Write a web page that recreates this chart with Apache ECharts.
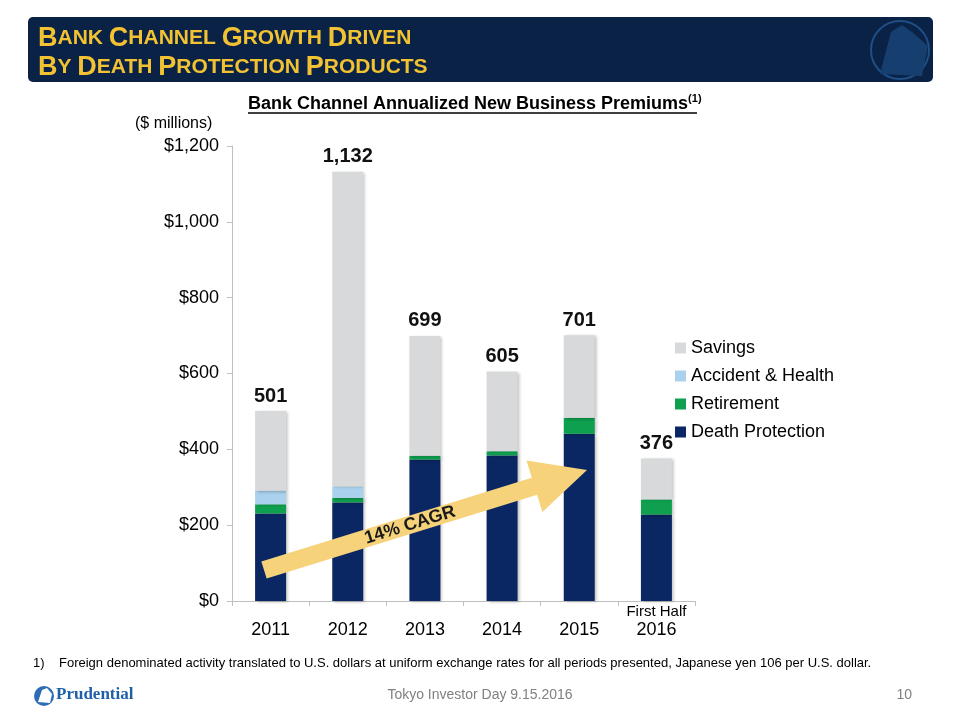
<!DOCTYPE html>
<html>
<head>
<meta charset="utf-8">
<script src="https://cdn.jsdelivr.net/npm/echarts@6/dist/echarts.min.js"></script>
<style>
html,body{margin:0;padding:0;background:#fff;}
#main{width:960px;height:720px;}
</style>
</head>
<body>
<div id="main"></div>
<script>
const categories = ['2011', '2012', '2013', '2014', '2015', '2016'];
const deathProtection = [231, 260, 373, 384, 441, 228];
const retirement = [24, 12, 10, 11, 42, 40];
const accidentHealth = [36, 30, 0, 0, 0, 0];
const savings = [210, 830, 316, 210, 218, 108];
const totals = [501, 1132, 699, 605, 701, 376];
const yMax = 1200;
const yInterval = 200;

const FONT = 'Liberation Sans, Arial, sans-serif';
const chart = echarts.init(document.getElementById('main'));

function smallCaps(line) {
  return line.split(' ').map(w => '{L|' + w[0] + '}{s|' + w.slice(1).toUpperCase() + '}').join('{s| }');
}

// arrow geometry (annotation)
const T = [264, 570], P = [587, 470];
const dx = P[0] - T[0], dy = P[1] - T[1];
const len = Math.sqrt(dx * dx + dy * dy);
const u = [dx / len, dy / len];
const n = [-u[1], u[0]];
const headLen = 55, sw = 9, hw = 27;
const B = [P[0] - u[0] * headLen, P[1] - u[1] * headLen];
const pt = (base, k) => [base[0] + n[0] * k, base[1] + n[1] * k];
const arrowPts = [pt(T, sw), pt(T, -sw), pt(B, -sw), pt(B, -hw), P, pt(B, hw), pt(B, sw)];

const barStyle = { shadowBlur: 3, shadowOffsetX: 2, shadowOffsetY: 1, shadowColor: 'rgba(0,0,0,0.25)' };

const option = {
  backgroundColor: '#ffffff',
  animation: false,
  textStyle: { fontFamily: FONT },
  grid: { left: 232, right: 265, top: 146, bottom: 119 },
  legend: {
    orient: 'vertical',
    left: 670,
    top: 334,
    itemWidth: 11,
    itemHeight: 11,
    itemGap: 10,
    icon: 'rect',
    textStyle: { fontSize: 18, color: '#000', fontFamily: FONT, padding: [0, 0, 0, 0] },
    data: ['Savings', 'Accident & Health', 'Retirement', 'Death Protection']
  },
  xAxis: {
    type: 'category',
    data: categories,
    axisLine: { lineStyle: { color: '#BFBFBF', width: 1 } },
    axisTick: { show: true, length: 5, lineStyle: { color: '#BFBFBF' } },
    axisLabel: {
      interval: 0,
      margin: 2,
      formatter: function (v) {
        return (v === '2016' ? '{a|First Half}' : '{a| }') + '\n{b|' + v + '}';
      },
      rich: {
        a: { fontSize: 15, lineHeight: 17, color: '#000', fontFamily: FONT },
        b: { fontSize: 18, lineHeight: 20, color: '#000', fontFamily: FONT }
      }
    }
  },
  yAxis: {
    type: 'value',
    min: 0,
    max: yMax,
    interval: yInterval,
    splitLine: { show: false },
    axisLine: { show: true, lineStyle: { color: '#BFBFBF', width: 1 } },
    axisTick: { show: true, length: 5, lineStyle: { color: '#BFBFBF' } },
    axisLabel: {
      fontSize: 18,
      color: '#000',
      margin: 13,
      fontFamily: FONT,
      formatter: v => '$' + v.toLocaleString('en-US')
    }
  },
  series: [
    { name: 'Death Protection', type: 'bar', stack: 'a', barWidth: 31, data: deathProtection,
      itemStyle: Object.assign({ color: '#0B2763' }, barStyle) },
    { name: 'Retirement', type: 'bar', stack: 'a', data: retirement,
      itemStyle: Object.assign({ color: '#0EA04E' }, barStyle) },
    { name: 'Accident & Health', type: 'bar', stack: 'a', data: accidentHealth,
      itemStyle: Object.assign({ color: '#AAD2EF' }, barStyle) },
    { name: 'Savings', type: 'bar', stack: 'a', data: savings,
      itemStyle: Object.assign({ color: '#D8D9DA' }, barStyle),
      label: {
        show: true, position: 'top', distance: 5,
        fontSize: 20, fontWeight: 'bold', color: '#111', fontFamily: FONT,
        formatter: p => totals[p.dataIndex].toLocaleString('en-US')
      }
    }
  ],
  graphic: [
    // header banner
    { type: 'rect', shape: { x: 28, y: 17, width: 905, height: 65, r: 5 }, style: { fill: '#0A2246' }, z: 1 },
    { type: 'circle', shape: { cx: 900, cy: 50, r: 29 }, style: { fill: 'none', stroke: '#1F4F86', lineWidth: 2 }, z: 2 },
    { type: 'polygon', shape: { points: [[880, 74], [891, 32], [902, 25], [912, 32], [928, 46], [922, 76]] }, style: { fill: '#163F70' }, z: 2 },
    { type: 'text', left: 38, top: 24, z: 3,
      style: { text: smallCaps('Bank Channel Growth Driven') + '\n' + smallCaps('By Death Protection Products'),
        fontFamily: FONT, fontWeight: 'bold', fill: '#F2C232', lineHeight: 29,
        rich: { L: { fontSize: 27, fontWeight: 'bold', fill: '#F2C232', fontFamily: FONT, lineHeight: 29 },
                s: { fontSize: 21, fontWeight: 'bold', fill: '#F2C232', fontFamily: FONT, lineHeight: 29 } } } },
    // chart title
    { type: 'text', left: 248, top: 93, z: 3,
      style: { text: '{t|Bank Channel Annualized New Business Premiums}{sup|(1)}',
        rich: { t: { fontSize: 18, fontWeight: 'bold', fill: '#000', fontFamily: FONT, lineHeight: 20, verticalAlign: 'bottom' },
                sup: { fontSize: 11, fontWeight: 'bold', fill: '#000', fontFamily: FONT, lineHeight: 20, verticalAlign: 'top', padding: [0, 0, 8, 0] } } } },
    { type: 'line', shape: { x1: 248, y1: 113, x2: 697, y2: 113 }, style: { stroke: '#000', lineWidth: 1.3 }, z: 3 },
    { type: 'text', left: 135, top: 116, z: 3, style: { text: '($ millions)', fontSize: 16, fill: '#000', fontFamily: FONT } },
    // CAGR arrow
    { type: 'polygon', shape: { points: arrowPts }, style: { fill: '#F6D27A' }, z: 10 },
    { type: 'text', x: 410, y: 525, rotation: Math.atan2(-dy, dx), z: 11,
      style: { text: '14% CAGR', fontSize: 18, fontWeight: 'bold', fill: '#1a1a1a', fontFamily: FONT, align: 'center', verticalAlign: 'middle' } },
    // footnote
    { type: 'text', left: 33, top: 657, style: { text: '1)', fontSize: 13, fill: '#000', fontFamily: FONT } },
    { type: 'text', left: 59, top: 657, style: { text: 'Foreign denominated activity translated to U.S. dollars at uniform exchange rates for all periods presented, Japanese yen 106 per U.S. dollar.', fontSize: 13, fill: '#000', fontFamily: FONT } },
    // footer
    { type: 'circle', shape: { cx: 44, cy: 696, r: 10 }, style: { fill: '#2C6DB5' } },
    { type: 'polygon', shape: { points: [[38, 702], [42, 690], [47, 688], [52, 694], [50, 703]] }, style: { fill: '#ffffff' } },
    { type: 'text', left: 56, top: 686, style: { text: 'Prudential', fontSize: 17, fontWeight: 'bold', fill: '#1F5FA8', fontFamily: 'Liberation Serif, serif' } },
    { type: 'text', x: 480, y: 695, style: { text: 'Tokyo Investor Day 9.15.2016', fontSize: 14, fill: '#808080', fontFamily: FONT, align: 'center', verticalAlign: 'middle' } },
    { type: 'text', x: 912, y: 695, style: { text: '10', fontSize: 14, fill: '#808080', fontFamily: FONT, align: 'right', verticalAlign: 'middle' } }
  ]
};
chart.setOption(option);
</script>
</body>
</html>
